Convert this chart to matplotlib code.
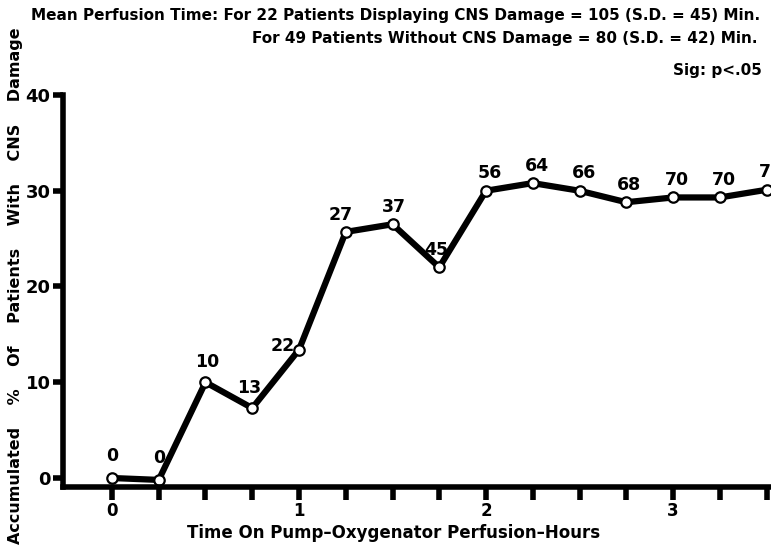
import matplotlib
matplotlib.use("Agg")
import matplotlib.pyplot as plt

hours = [0, 0.25, 0.5, 0.75, 1.0, 1.25, 1.5, 1.75, 2.0, 2.25, 2.5, 2.75, 3.0, 3.25, 3.5]
pct = [0, -0.2, 10.0, 7.3, 13.4, 25.7, 26.5, 22.0, 30.0, 30.8, 30.0, 28.8, 29.3, 29.3, 30.1]
counts = ["0", "0", "10", "13", "22", "27", "37", "45", "56", "64", "66", "68", "70", "70", "71"]
y_ticks = [0, 10, 20, 30, 40]
x_ticks = [0, 1, 2, 3]

# label offsets in points (style)
offs = [(0, 9), (0, 9), (1, 8), (-2, 8), (-12, -4), (-4, 6), (1, 6), (-2, 6),
        (3, 6), (3, 6), (3, 6), (2, 6), (3, 6), (3, 6), (3, 6)]

FONT = dict(family="DejaVu Sans", fontweight="bold")

fig = plt.figure(figsize=(7.71, 5.47), dpi=100)
ax = fig.add_axes([63/771, 60/547, 708/771, 392/547])
ax.set_xlim(-0.262, 3.524)
ax.set_ylim(-0.94, 40)

ax.plot(hours, pct, color="black", lw=4.5, solid_capstyle="butt", zorder=2,
        marker="o", ms=7.5, mfc="white", mec="black", mew=1.6)

for x, y, c, o in zip(hours, pct, counts, offs):
    ax.annotate(c, (x, y), xytext=o, textcoords="offset points", ha="center",
                va="bottom", fontsize=12.5, annotation_clip=False, **FONT)

for s in ["top", "right"]:
    ax.spines[s].set_visible(False)
for s in ["left", "bottom"]:
    ax.spines[s].set_linewidth(4)

ax.set_yticks(y_ticks)
ax.set_yticklabels([str(v) for v in y_ticks], fontsize=13, **FONT)
ax.set_xticks(x_ticks)
ax.set_xticklabels([str(v) for v in x_ticks], fontsize=12, **FONT)
ax.set_xticks([h for h in hours], minor=True)
ax.tick_params(axis="y", direction="out", length=7, width=4, pad=2)
ax.tick_params(axis="x", which="both", direction="out", length=9, width=4, pad=2)

ax.set_xlabel("Time On Pump\u2013Oxygenator Perfusion\u2013Hours", fontsize=12, **FONT)
ax.xaxis.set_label_coords((394 - 63) / 708, -0.094)
fig.text(0.02, 0.477, "Accumulated    %    Of    Patients    With    CNS    Damage",
         rotation=90, ha="center", va="center", fontsize=11.5, **FONT)

fig.text(0.986, 0.972, "Mean Perfusion Time: For 22 Patients Displaying CNS Damage = 105 (S.D. = 45) Min.",
         ha="right", va="center", fontsize=11, **FONT)
fig.text(0.982, 0.930, "For 49 Patients Without CNS Damage = 80 (S.D. = 42) Min.",
         ha="right", va="center", fontsize=11, **FONT)
fig.text(0.988, 0.872, "Sig: p<.05", ha="right", va="center", fontsize=11, **FONT)

fig.savefig("out.png", dpi=100)
